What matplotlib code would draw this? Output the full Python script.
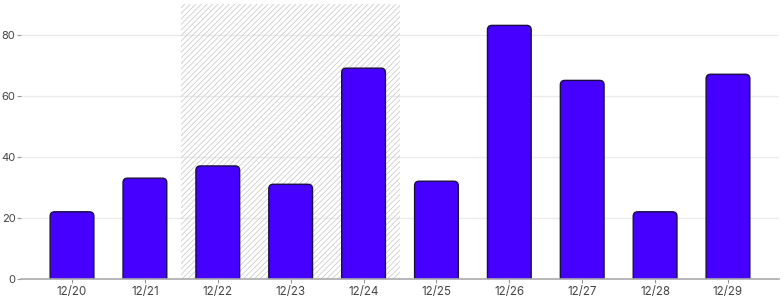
import matplotlib
matplotlib.use("Agg")
import matplotlib.pyplot as plt
from matplotlib.patches import FancyBboxPatch

# data
days = ["12/20", "12/21", "12/22", "12/23", "12/24",
        "12/25", "12/26", "12/27", "12/28", "12/29"]
values = [22, 33, 37, 31, 69, 32, 83, 65, 22, 67]
highlight = ["12/22", "12/24"]   # hatched span (first, last day)
y_ticks = [0, 20, 40, 60, 80]

plt.rcParams['font.family'] = ['Inter', 'DejaVu Sans']
plt.rcParams['hatch.color'] = '#c4c4c4'
plt.rcParams['hatch.linewidth'] = 0.5

fig = plt.figure(figsize=(7.84, 3.0), dpi=100)
ax = fig.add_axes([21 / 784, 21 / 300, 758 / 784, 275 / 300])

x = list(range(len(days)))
ax.set_xlim(-0.7, len(days) - 0.3)
ax.set_ylim(0, 90)

# hatched highlight region
i0, i1 = days.index(highlight[0]), days.index(highlight[1])
ax.fill_between([i0 - 0.5, i1 + 0.5], 0, 90, facecolor='none',
                hatch='//////', edgecolor='#c4c4c4', linewidth=0, zorder=1)

# grid
for t in y_ticks[1:]:
    ax.axhline(t, color='#ebebeb', linewidth=1, zorder=0)

# bars with rounded corners
bar_w = 0.6
px_x = 758 / (len(days) + 0.4)
px_y = 275 / 90
aspect = px_x / px_y
r = 4.5 / px_x
for xi, v in zip(x, values):
    p = FancyBboxPatch((xi - bar_w / 2, -3), bar_w, v + 3,
                       boxstyle=f"round,pad=0,rounding_size={r}",
                       mutation_aspect=aspect,
                       facecolor='#4500ff', edgecolor='#1a1040',
                       linewidth=1, zorder=3)
    ax.add_patch(p)

ax.set_xticks(x)
ax.set_xticklabels(days)
ax.set_yticks(y_ticks)
for s in ['top', 'right', 'left']:
    ax.spines[s].set_visible(False)
ax.spines['bottom'].set_color('#aaaaaa')
ax.spines['bottom'].set_linewidth(1.2)
ax.spines['bottom'].set_zorder(4)
ax.tick_params(axis='both', colors='#999999', labelcolor='#444444',
               labelsize=8.3, length=3, width=0.8, pad=2)
ax.tick_params(axis='y', pad=1, labelsize=8)

fig.savefig("out.png", dpi=100)
